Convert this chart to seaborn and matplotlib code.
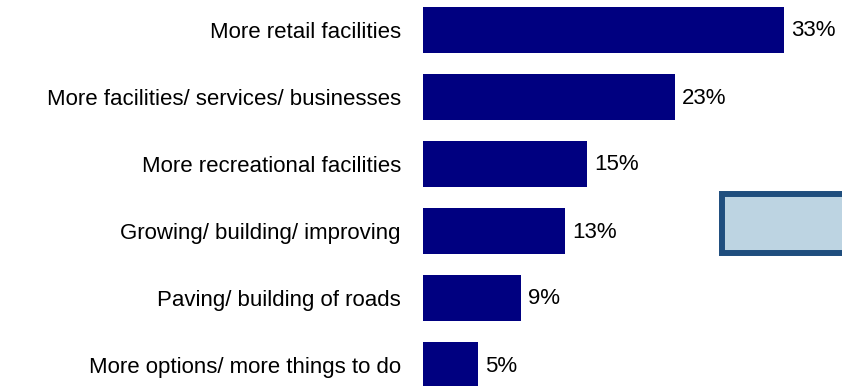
import matplotlib
matplotlib.use("Agg")
import matplotlib.pyplot as plt
from matplotlib.patches import Rectangle
import seaborn as sns
import pandas as pd

categories = [
    "More retail facilities",
    "More facilities/ services/ businesses",
    "More recreational facilities",
    "Growing/ building/ improving",
    "Paving/ building of roads",
    "More options/ more things to do",
]
values = [33, 23, 15, 13, 9, 5]
value_labels = ["33%", "23%", "15%", "13%", "9%", "5%"]

df = pd.DataFrame({"category": categories, "value": values})

sns.set_theme(style="white")
plt.rcParams["font.family"] = ["Liberation Sans", "DejaVu Sans"]

W, H = 842, 386
fig = plt.figure(figsize=(W / 100, H / 100), dpi=100)
ax = fig.add_axes([423 / W, 0, (W - 423) / W, 1])

sns.barplot(data=df, x="value", y="category", color="#000080",
            saturation=1, width=0.687, linewidth=0, ax=ax, orient="h")

px_per_unit = 10.94
ax.set_xlim(0, (W - 423) / px_per_unit)
ax.set_ylim(5 + (H - 365) / 67, -30 / 67)

FS = 16
for i, (v, lab) in enumerate(zip(values, value_labels)):
    ax.annotate(lab, (v, i), xytext=(7, -1), textcoords="offset pixels",
                ha="left", va="center", fontsize=FS, color="#000000")

ax.set_xlabel("")
ax.set_ylabel("")
ax.set_xticks([])
ax.tick_params(axis="y", length=0, pad=16, labelsize=FS, labelcolor="#000000")
for s in ax.spines.values():
    s.set_visible(False)

# Partially visible callout box on the right
box = Rectangle((722, H - 253), 140, 59, transform=None,
                facecolor="#BDD4E2", edgecolor="#1F4E7E", linewidth=4.3,
                zorder=5)
fig.patches.append(box)

fig.savefig("out.png", dpi=100)
